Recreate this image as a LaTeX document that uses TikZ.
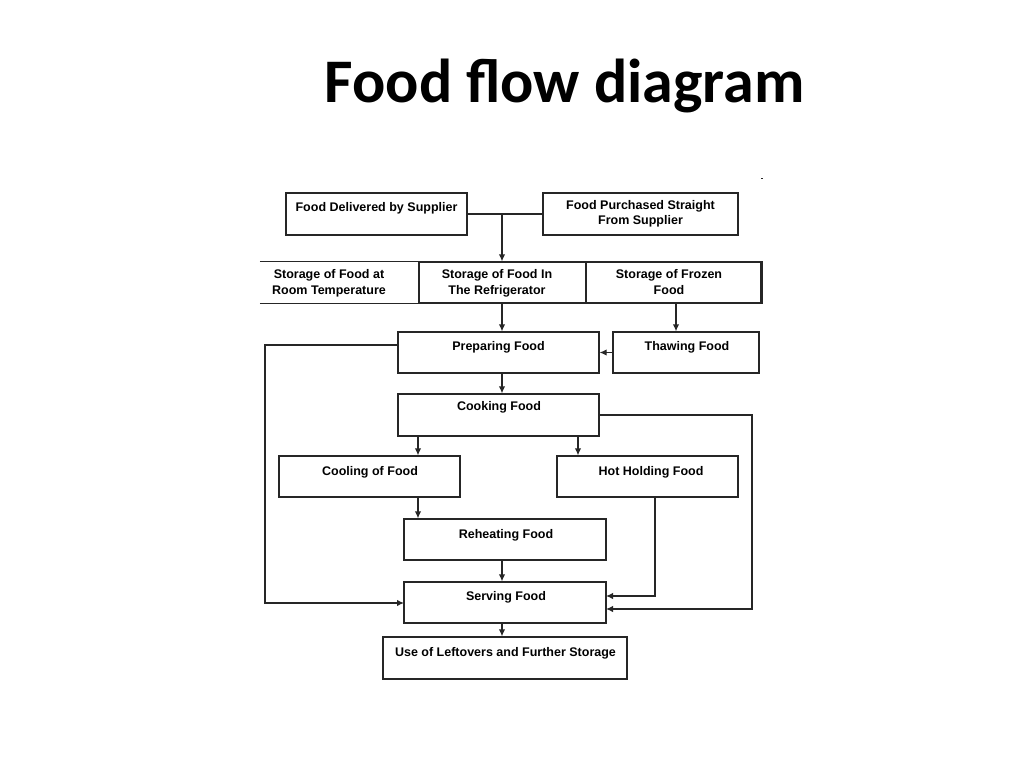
\documentclass[tikz,border=0pt]{standalone}
\usepackage{fontspec}
\setmainfont{Liberation Sans}
\newfontfamily\titlefont{Carlito}
\usetikzlibrary{arrows.meta}
\begin{document}
\begin{tikzpicture}[x=1pt,y=-1pt,
  box/.style={draw=black!85, line width=1.3pt, inner sep=0pt},
  cell/.style={inner sep=0pt},
  lbl/.style={font=\fontsize{12.5}{16}\selectfont\bfseries, align=center, inner sep=0pt, text=black},
  conn/.style={draw=black!85, line width=1.3pt},
  arr/.style={conn, -{Latex[length=7pt,width=6.5pt]}}]
\useasboundingbox[fill=white] (0,0) rectangle (1024,768);

% title
\node[font=\titlefont\bfseries\fontsize{62}{70}\selectfont, anchor=base, inner sep=0pt] (title) at (564.5,102) {Food flow diagram};
\draw[conn, line width=0.8pt] (761,178) -- (763,178);

% boxes
\node[box, minimum width=181pt, minimum height=42pt] (b1) at (376.5,214) {};
\node[box, minimum width=195pt, minimum height=42pt] (b2) at (640.5,214) {};
\node[cell, minimum width=159pt, minimum height=41pt] (s1) at (339.5,282.5) {};
\node[box, minimum width=167pt, minimum height=41pt] (s2) at (502.5,282.5) {};
\node[box, minimum width=175pt, minimum height=41pt] (s3) at (673.5,282.5) {};
\draw[conn] (s1.north west) -- (s1.north east);
\draw[conn] (s1.south west) -- (s1.south east);
\draw[conn, line width=2.4pt] (s3.north east) -- (s3.south east);
\node[box, minimum width=201pt, minimum height=41pt] (prep) at (498.5,352.5) {};
\node[box, minimum width=146pt, minimum height=41pt] (thaw) at (686,352.5) {};
\node[box, minimum width=201pt, minimum height=42pt] (cook) at (498.5,415) {};
\node[box, minimum width=181pt, minimum height=41pt] (cool) at (369.5,476.5) {};
\node[box, minimum width=181pt, minimum height=41pt] (hot) at (647.5,476.5) {};
\node[box, minimum width=202pt, minimum height=41pt] (reheat) at (505,539.5) {};
\node[box, minimum width=202pt, minimum height=41pt] (serve) at (505,602.5) {};
\node[box, minimum width=244pt, minimum height=42pt] (left) at (505,658) {};

% texts
\node[lbl, anchor=base] (tb1) at (376.5,211.5) {Food Delivered by Supplier};
\node[lbl, anchor=north, font=\fontsize{12.5}{15}\selectfont\bfseries] (tb2) at (640.5,200.5) {Food Purchased Straight\\From Supplier};
\node[lbl, anchor=north] (ts1) at (329,269.5) {Storage of Food at\\Room Temperature};
\node[lbl, anchor=north] (ts2) at (497,269.5) {Storage of Food In\\The Refrigerator};
\node[lbl, anchor=north] (ts3) at (669,269.5) {Storage of Frozen\\Food};
\node[lbl, anchor=base] (tprep) at (498.5,350.5) {Preparing Food};
\node[lbl, anchor=base] (tthaw) at (687,350.5) {Thawing Food};
\node[lbl, anchor=base] (tcook) at (499,410.5) {Cooking Food};
\node[lbl, anchor=base] (tcool) at (370,475.5) {Cooling of Food};
\node[lbl, anchor=base] (thot) at (651,475.5) {Hot Holding Food};
\node[lbl, anchor=base] (treheat) at (506,538.5) {Reheating Food};
\node[lbl, anchor=base] (tserve) at (506,600.5) {Serving Food};
\node[lbl, anchor=base] (tleft) at (505.5,656.5) {Use of Leftovers and Further Storage};

% connectors
\coordinate (j) at (502,214);
\draw[conn] (b1.east) -- (b2.west);
\draw[arr] (j) -- (j |- s2.north);
\coordinate (a1) at (502,303);
\draw[arr] (a1) -- (a1 |- prep.north);
\coordinate (a2) at (676,303);
\draw[arr] (a2) -- (a2 |- thaw.north);
\draw[arr] (thaw.west) -- (prep.east);
\coordinate (a3) at (502,373);
\draw[arr] (a3) -- (a3 |- cook.north);
% left loop
\coordinate (p1) at (398,345);
\coordinate (p2) at (404,603);
\draw[arr] (p1) -- (265,345) -- (265,603) -- (p2);
% right loop from cooking
\coordinate (c1) at (599,415);
\coordinate (c2) at (606,609);
\draw[arr] (c1) -- (752,415) -- (752,609) -- (c2);
% cooking to cooling / hot
\coordinate (c3) at (418,436);
\draw[arr] (c3) -- (c3 |- cool.north);
\coordinate (c4) at (578,436);
\draw[arr] (c4) -- (c4 |- hot.north);
% cooling to reheating
\coordinate (c5) at (418,497);
\draw[arr] (c5) -- (c5 |- reheat.north);
% hot holding to serving
\coordinate (h1) at (655,497);
\coordinate (h2) at (606,596);
\draw[arr] (h1) -- (655,596) -- (h2);
% reheating to serving
\coordinate (r1) at (502,560);
\draw[arr] (r1) -- (r1 |- serve.north);
\coordinate (r2) at (502,623);
\draw[arr] (r2) -- (r2 |- left.north);
\end{tikzpicture}
\end{document}
